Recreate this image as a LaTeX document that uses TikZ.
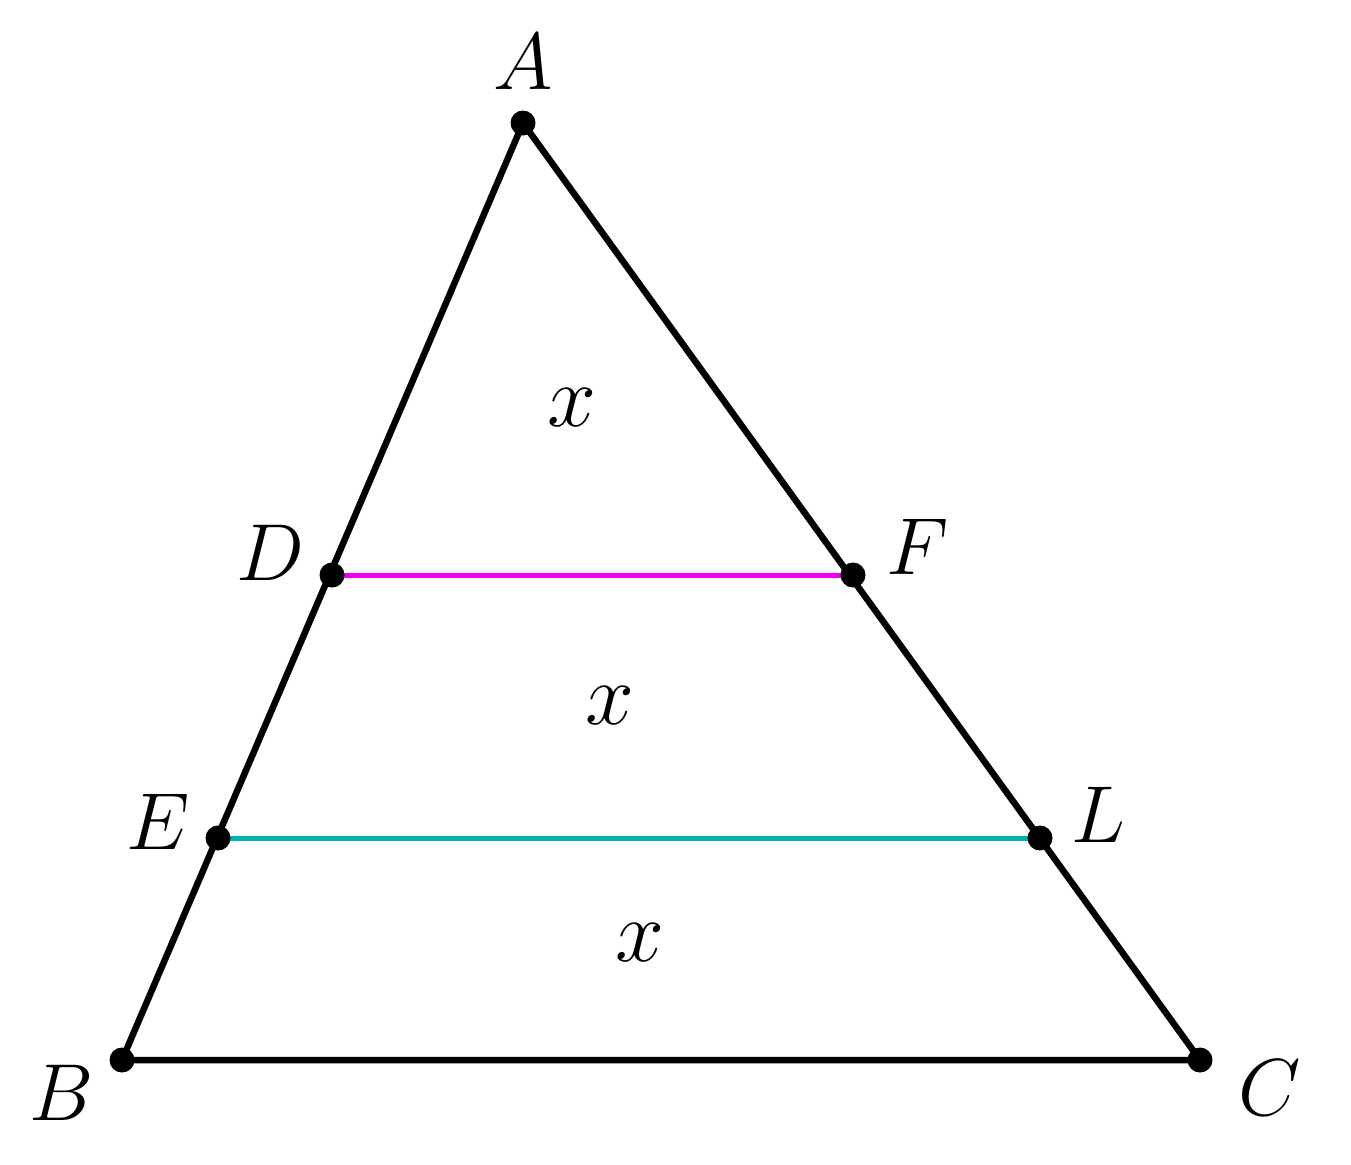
\RequirePackage{fix-cm}
\documentclass[tikz,border=0pt]{standalone}
\usepackage{tikz}
\definecolor{mag}{RGB}{240,0,240}
\definecolor{teal2}{RGB}{0,180,175}
\begin{document}
\begin{tikzpicture}[x=0.02cm,y=-0.02cm,
  edge/.style={line width=0.13cm,black},
  pt/.style={circle,fill=black,inner sep=0pt,minimum size=0.5cm},
  lbl/.style={font=\fontsize{46}{50}\selectfont},
  xl/.style={font=\fontsize{50}{55}\selectfont}]
\useasboundingbox (0,0) rectangle (1351,1164);
\coordinate (A) at (523,123);
\coordinate (B) at (122,1060);
\coordinate (C) at (1200,1060);
\coordinate (D) at (332,575);
\coordinate (F) at (853,575);
\coordinate (E) at (218,838);
\coordinate (L) at (1040,838);
\draw[mag,line width=0.1cm] (D) -- (F);
\draw[teal2,line width=0.1cm] (E) -- (L);
\draw[edge,line join=round] (A) -- (B) -- (C) -- cycle;
\foreach \p in {A,B,C,D,E,F,L} \node[pt] (n\p) at (\p) {};
\node[lbl] (lA) at (523,62) {$A$};
\node[lbl] (lB) at (62,1093) {$B$};
\node[lbl] (lC) at (1270,1088) {$C$};
\node[lbl] (lD) at (270,553) {$D$};
\node[lbl] (lF) at (918,547) {$F$};
\node[lbl] (lE) at (158,822) {$E$};
\node[lbl] (lL) at (1098,815) {$L$};
\node[xl] (x1) at (572,408) {$x$};
\node[xl] (x2) at (610,706) {$x$};
\node[xl] (x3) at (640,943) {$x$};
\end{tikzpicture}
\end{document}
